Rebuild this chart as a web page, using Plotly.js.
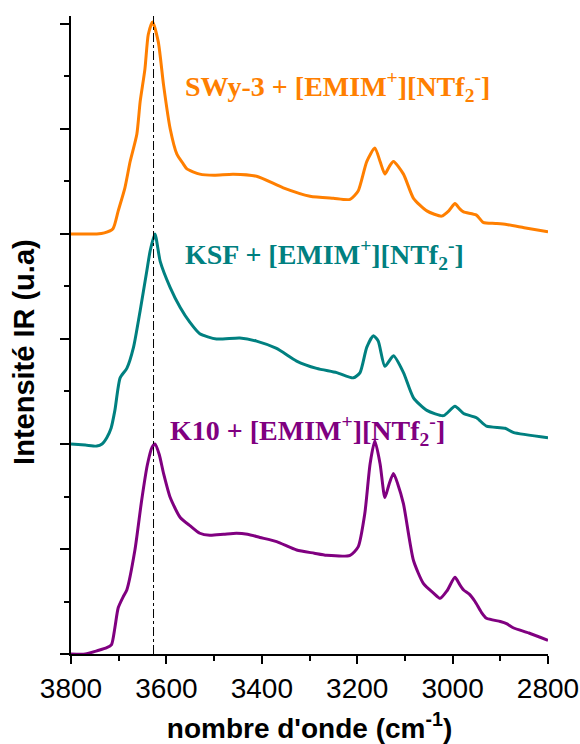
<!DOCTYPE html>
<html>
<head>
<meta charset="utf-8">
<script src="https://cdn.plot.ly/plotly-3.0.1.min.js"></script>
<style>html,body{margin:0;padding:0;background:#fff;} #chart{width:580px;height:744px;}</style>
</head>
<body>
<div id="chart"></div>
<script>
// K10 + [EMIM+][NTf2-] (offset 0)
const k10X = [3800,3770,3746,3725,3715,3708,3701,3690,3683,3666,3652,3640,3630,3624,3615,3606,3592,3571,3550,3530,3509,3480,3453,3430,3404,3369,3327,3290,3264,3215,3198,3184,3173,3163,3152,3142,3133,3124,3115,3103,3082,3061,3040,3026,3012,2995,2985,2977,2965,2953,2940,2929,2900,2887,2873,2840,2800];
const k10Y = [0,0,0.03,0.06,0.09,0.25,0.44,0.55,0.61,0.99,1.46,1.80,1.97,2.0,1.90,1.72,1.49,1.30,1.22,1.15,1.13,1.14,1.15,1.14,1.11,1.07,0.99,0.96,0.94,0.94,1.02,1.34,1.81,2.03,1.81,1.49,1.62,1.72,1.62,1.43,0.89,0.67,0.58,0.53,0.60,0.73,0.66,0.61,0.57,0.50,0.40,0.34,0.31,0.29,0.25,0.20,0.13];

// KSF + [EMIM+][NTf2-] (offset 2)
const ksfX = [3800,3770,3746,3735,3725,3716,3708,3697,3683,3669,3655,3641,3634,3624,3613,3592,3571,3551,3530,3495,3446,3411,3369,3327,3285,3243,3208,3194,3180,3166,3156,3142,3124,3103,3082,3054,3019,2995,2977,2950,2929,2890,2873,2800];
const ksfY = [2.0,1.99,1.98,2.0,2.06,2.15,2.32,2.63,2.72,2.92,3.27,3.65,3.84,4.0,3.74,3.49,3.30,3.16,3.05,3.0,3.01,2.98,2.91,2.79,2.72,2.68,2.63,2.68,2.92,3.03,2.98,2.74,2.84,2.68,2.44,2.32,2.27,2.36,2.29,2.25,2.17,2.15,2.11,2.06];

// SWy-3 + [EMIM+][NTf2-] (offset 4)
const swyX = [3800,3780,3760,3746,3730,3712,3701,3687,3676,3662,3655,3645,3638,3629,3617,3606,3592,3578,3565,3557,3530,3500,3460,3411,3355,3299,3250,3215,3198,3180,3163,3152,3142,3133,3124,3103,3082,3054,3023,3008,2995,2985,2977,2950,2936,2910,2887,2850,2800];
const swyY = [4.0,4.0,4.0,4.0,4.01,4.05,4.22,4.44,4.69,4.95,5.26,5.57,5.90,6.02,5.83,5.42,5.0,4.76,4.67,4.62,4.57,4.56,4.57,4.55,4.44,4.36,4.34,4.33,4.41,4.69,4.82,4.69,4.57,4.64,4.69,4.57,4.34,4.22,4.17,4.22,4.29,4.24,4.21,4.18,4.11,4.10,4.09,4.06,4.02];

const seriesNames = ['K10 + [EMIM<sup>+</sup>][NTf<sub>2</sub><sup>-</sup>]', 'KSF + [EMIM<sup>+</sup>][NTf<sub>2</sub><sup>-</sup>]', 'SWy-3 + [EMIM<sup>+</sup>][NTf<sub>2</sub><sup>-</sup>]'];
const seriesColors = ['#800080', '#008080', '#FF7F00'];
const refLineX = 3627;
const xTickVals = [3800,3600,3400,3200,3000,2800];

const mk = (x, y, i) => ({
  x: x, y: y, type: 'scatter', mode: 'lines', name: seriesNames[i],
  line: {color: seriesColors[i], width: 3, shape: 'spline', smoothing: 0.6},
  hoverinfo: 'skip'
});

const data = [mk(k10X, k10Y, 0), mk(ksfX, ksfY, 1), mk(swyX, swyY, 2)];

const labelFont = (c) => ({family: 'Liberation Serif, Times New Roman, serif', size: 28, color: c});
const sansBold = {family: 'Liberation Sans, Arial, sans-serif', size: 28, color: '#000'};

const layout = {
  width: 580, height: 744,
  margin: {l: 71, r: 32, t: 16, b: 90},
  paper_bgcolor: '#fff', plot_bgcolor: '#fff',
  showlegend: false,
  xaxis: {
    range: [3800, 2800], tickvals: xTickVals,
    ticks: 'outside', ticklen: 8, tickwidth: 2, tickcolor: '#000',
    minor: {dtick: 100, tick0: 2800, ticklen: 5, tickwidth: 2, tickcolor: '#000', ticks: 'outside', showgrid: false},
    showline: true, linewidth: 2, linecolor: '#000', showgrid: false, zeroline: false,
    tickfont: {family: 'Liberation Sans, Arial, sans-serif', size: 28, color: '#000'},
    title: {text: '<b>nombre d\'onde (cm<sup>-1</sup>)</b>', font: sansBold, standoff: 16}
  },
  yaxis: {
    range: [0, 6.076], dtick: 1, tick0: 0,
    showticklabels: false,
    ticks: 'outside', ticklen: 9, tickwidth: 2, tickcolor: '#000',
    minor: {dtick: 0.5, ticklen: 5, tickwidth: 2, tickcolor: '#000', ticks: 'outside', showgrid: false},
    showline: true, linewidth: 2, linecolor: '#000', showgrid: false, zeroline: false
  },
  shapes: [{
    type: 'line', xref: 'x', yref: 'paper', x0: refLineX, x1: refLineX, y0: 0, y1: 1,
    line: {color: '#000', width: 1, dash: 'dashdot'}
  }],
  annotations: [
    {xref: 'paper', yref: 'y', x: -0.1, y: 2.88, xanchor: 'center', yanchor: 'middle', textangle: -90, showarrow: false, text: '<b>Intensité IR (u.a)</b>', font: {family: 'Liberation Sans, Arial, sans-serif', size: 29, color: '#000'}},
    {xref: 'x', yref: 'y', x: 3565, y: 5.40, xanchor: 'left', yanchor: 'middle', showarrow: false, text: '<b>' + seriesNames[2] + '</b>', font: labelFont(seriesColors[2])},
    {xref: 'x', yref: 'y', x: 3565, y: 3.80, xanchor: 'left', yanchor: 'middle', showarrow: false, text: '<b>' + seriesNames[1] + '</b>', font: labelFont(seriesColors[1])},
    {xref: 'x', yref: 'y', x: 3597, y: 2.13, xanchor: 'left', yanchor: 'middle', showarrow: false, text: '<b>' + seriesNames[0] + '</b>', font: labelFont(seriesColors[0])}
  ]
};

Plotly.newPlot('chart', data, layout, {displayModeBar: false, staticPlot: true});
</script>
</body>
</html>
